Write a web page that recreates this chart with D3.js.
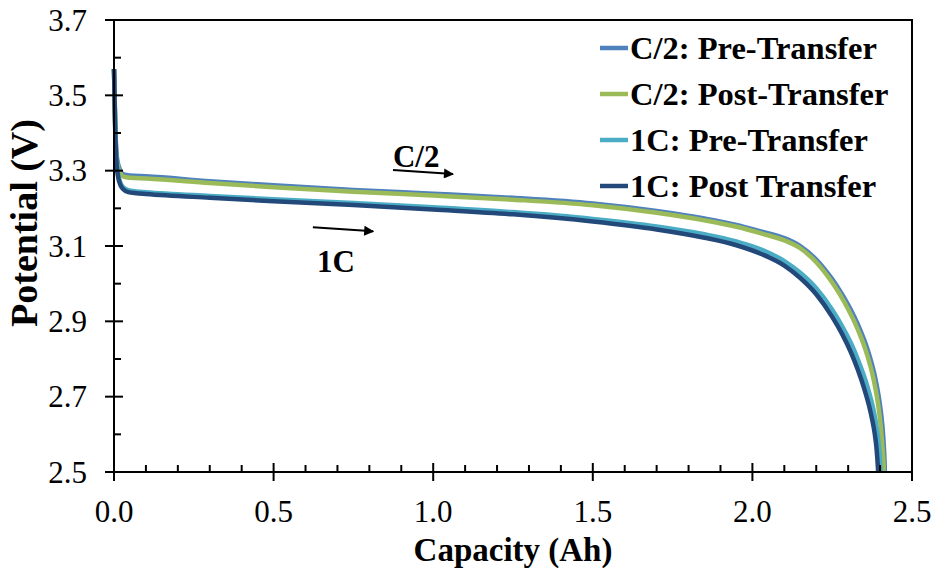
<!DOCTYPE html>
<html>
<head>
<meta charset="utf-8">
<script src="https://cdn.jsdelivr.net/npm/d3@7"></script>
<style>
  html, body { margin: 0; padding: 0; background: #fff; }
  svg { display: block; }
</style>
</head>
<body>
<svg id="chart" width="937" height="573"></svg>
<script>
// Discharge curves: capacity (Ah) vs potential (V)
const c2PreCap  = [0, 0.004, 0.01, 0.02, 0.03, 0.05, 0.1, 0.3, 0.5, 0.75, 1.0, 1.25, 1.5, 1.7, 1.85, 1.95, 2.03, 2.1, 2.15, 2.2, 2.225, 2.25, 2.275, 2.3, 2.32, 2.34, 2.355, 2.37, 2.38, 2.39, 2.398, 2.404, 2.409, 2.412, 2.414, 2.415];
const c2PreV    = [3.57, 3.42, 3.33, 3.30, 3.290, 3.287, 3.285, 3.272, 3.261, 3.249, 3.239, 3.228, 3.213, 3.193, 3.173, 3.156, 3.138, 3.121, 3.100, 3.064, 3.040, 3.012, 2.980, 2.944, 2.911, 2.873, 2.840, 2.800, 2.768, 2.728, 2.688, 2.650, 2.605, 2.565, 2.530, 2.50];

const c2PostCap = [0, 0.004, 0.01, 0.02, 0.03, 0.05, 0.1, 0.3, 0.5, 0.75, 1.0, 1.25, 1.5, 1.7, 1.85, 1.95, 2.03, 2.1, 2.15, 2.2, 2.225, 2.25, 2.275, 2.3, 2.32, 2.34, 2.355, 2.37, 2.38, 2.39, 2.397, 2.402, 2.406, 2.409, 2.411, 2.412];
const c2PostV   = [3.57, 3.41, 3.32, 3.293, 3.284, 3.281, 3.279, 3.267, 3.256, 3.244, 3.234, 3.223, 3.208, 3.188, 3.168, 3.151, 3.133, 3.115, 3.094, 3.057, 3.032, 3.003, 2.970, 2.932, 2.898, 2.858, 2.823, 2.780, 2.745, 2.700, 2.660, 2.622, 2.582, 2.548, 2.520, 2.50];

const oneCPreCap  = [0, 0.004, 0.01, 0.02, 0.03, 0.045, 0.07, 0.1, 0.3, 0.5, 0.75, 1.0, 1.25, 1.5, 1.7, 1.85, 1.95, 2.03, 2.1, 2.15, 2.2, 2.25, 2.28, 2.31, 2.33, 2.35, 2.365, 2.377, 2.386, 2.392, 2.396, 2.399, 2.401, 2.402];
const oneCPreV    = [3.57, 3.41, 3.31, 3.268, 3.255, 3.248, 3.245, 3.243, 3.233, 3.224, 3.214, 3.203, 3.190, 3.172, 3.152, 3.131, 3.112, 3.090, 3.060, 3.029, 2.988, 2.931, 2.889, 2.840, 2.800, 2.754, 2.713, 2.674, 2.636, 2.602, 2.572, 2.540, 2.515, 2.50];

const oneCPostCap = [0, 0.004, 0.01, 0.02, 0.03, 0.045, 0.07, 0.1, 0.3, 0.5, 0.75, 1.0, 1.25, 1.5, 1.7, 1.85, 1.95, 2.03, 2.1, 2.15, 2.2, 2.25, 2.28, 2.31, 2.33, 2.35, 2.365, 2.375, 2.383, 2.388, 2.391, 2.393, 2.394];
const oneCPostV   = [3.57, 3.40, 3.30, 3.262, 3.250, 3.243, 3.240, 3.238, 3.228, 3.219, 3.209, 3.197, 3.184, 3.165, 3.144, 3.122, 3.102, 3.078, 3.048, 3.015, 2.972, 2.912, 2.868, 2.815, 2.772, 2.722, 2.677, 2.640, 2.603, 2.570, 2.540, 2.515, 2.50];

const seriesNames  = ["C/2: Pre-Transfer", "C/2: Post-Transfer", "1C: Pre-Transfer", "1C: Post Transfer"];
const seriesColors = ["#4f81bd", "#9bbb59", "#4bacc6", "#23497a"];

const xTicks = [0, 0.5, 1.0, 1.5, 2.0, 2.5];
const yTicks = [2.5, 2.7, 2.9, 3.1, 3.3, 3.5, 3.7];

const series = [
  { name: seriesNames[0], color: seriesColors[0], cap: c2PreCap,    v: c2PreV },
  { name: seriesNames[1], color: seriesColors[1], cap: c2PostCap,   v: c2PostV },
  { name: seriesNames[2], color: seriesColors[2], cap: oneCPreCap,  v: oneCPreV },
  { name: seriesNames[3], color: seriesColors[3], cap: oneCPostCap, v: oneCPostV }
];

const FONT = '"Liberation Serif", "Times New Roman", serif';

const svg = d3.select("#chart");
const margin = { left: 114, right: 25, top: 20, bottom: 101 };
const W = 937, H = 573;
const x = d3.scaleLinear().domain([0, 2.5]).range([margin.left, W - margin.right]);
const y = d3.scaleLinear().domain([2.5, 3.7]).range([H - margin.bottom, margin.top]);

// curves
const line = d3.line()
  .x(d => x(d[0]))
  .y(d => y(d[1]))
  .curve(d3.curveMonotoneX);

svg.append("g").selectAll("path")
  .data(series)
  .join("path")
  .attr("d", s => line(s.cap.map((c, i) => [c, s.v[i]])))
  .attr("fill", "none")
  .attr("stroke", s => s.color)
  .attr("stroke-width", 4.5)
  .attr("stroke-linejoin", "round")
  .attr("stroke-linecap", "butt");

// frame
svg.append("rect")
  .attr("x", x(0)).attr("y", y(3.7))
  .attr("width", x(2.5) - x(0)).attr("height", y(2.5) - y(3.7))
  .attr("fill", "none").attr("stroke", "#000").attr("stroke-width", 2);

// x axis: major ticks crossing the axis, minor ticks inside
const xMinor = d3.range(1, 25).map(i => i / 10).filter(v => Math.abs(v * 2 - Math.round(v * 2)) > 1e-6);
const xAxis = svg.append("g").attr("transform", `translate(0,${y(2.5)})`);
xAxis.selectAll("line.major").data(xTicks).join("line")
  .attr("x1", d => x(d)).attr("x2", d => x(d))
  .attr("y1", -9).attr("y2", 9)
  .attr("stroke", "#000").attr("stroke-width", 2);
xAxis.selectAll("line.minor").data(xMinor).join("line")
  .attr("x1", d => x(d)).attr("x2", d => x(d))
  .attr("y1", -7).attr("y2", 0)
  .attr("stroke", "#000").attr("stroke-width", 2);
xAxis.selectAll("text").data(xTicks).join("text")
  .attr("x", d => x(d)).attr("y", 50)
  .attr("text-anchor", "middle")
  .style("font-family", FONT).attr("font-size", 31)
  .text(d => d3.format(".1f")(d));

// y axis
const yMinor = d3.range(26, 37).map(i => i / 10).filter(v => Math.round(v * 10) % 2 === 0);
const yAxis = svg.append("g").attr("transform", `translate(${x(0)},0)`);
yAxis.selectAll("line.major").data(yTicks).join("line")
  .attr("y1", d => y(d)).attr("y2", d => y(d))
  .attr("x1", -9).attr("x2", 9)
  .attr("stroke", "#000").attr("stroke-width", 2);
yAxis.selectAll("line.minor").data(yMinor).join("line")
  .attr("y1", d => y(d)).attr("y2", d => y(d))
  .attr("x1", 0).attr("x2", 7)
  .attr("stroke", "#000").attr("stroke-width", 2);
yAxis.selectAll("text").data(yTicks).join("text")
  .attr("x", -27).attr("y", d => y(d))
  .attr("dy", "0.34em")
  .attr("text-anchor", "end")
  .style("font-family", FONT).attr("font-size", 31)
  .text(d => d3.format(".1f")(d));

// axis titles
svg.append("text")
  .attr("x", (x(0) + x(2.5)) / 2).attr("y", 561)
  .attr("text-anchor", "middle")
  .style("font-family", FONT).attr("font-weight", "bold").attr("font-size", 33)
  .text("Capacity (Ah)");
svg.append("text")
  .attr("transform", `translate(37,223) rotate(-90)`)
  .attr("text-anchor", "middle")
  .style("font-family", FONT).attr("font-weight", "bold").attr("font-size", 38)
  .text("Potential (V)");

// legend
const legend = svg.append("g").attr("transform", "translate(600,48)");
const rows = legend.selectAll("g").data(series).join("g")
  .attr("transform", (d, i) => `translate(0,${i * 46})`);
rows.append("line")
  .attr("x1", 0).attr("x2", 28).attr("y1", 0).attr("y2", 0)
  .attr("stroke", d => d.color).attr("stroke-width", 4.5);
rows.append("text")
  .attr("x", 30).attr("dy", "0.34em")
  .style("font-family", FONT).attr("font-weight", "bold").attr("font-size", 32.5)
  .text(d => d.name);

// rate annotations with arrows
const defs = svg.append("defs");
defs.append("marker")
  .attr("id", "arrow").attr("viewBox", "0 0 10 10")
  .attr("refX", 9).attr("refY", 5)
  .attr("markerWidth", 6).attr("markerHeight", 5)
  .attr("markerUnits", "strokeWidth")
  .attr("orient", "auto")
  .append("path").attr("d", "M0,0 L10,5 L0,10 Z").attr("fill", "#000");

const notes = [
  { label: "C/2", from: [0.874, 3.302], to: [1.062, 3.291], text: [0.874, 3.31] },
  { label: "1C",  from: [0.623, 3.150], to: [0.812, 3.139], text: [0.636, 3.031] }
];
notes.forEach(n => {
  svg.append("line")
    .attr("x1", x(n.from[0])).attr("y1", y(n.from[1]))
    .attr("x2", x(n.to[0])).attr("y2", y(n.to[1]))
    .attr("stroke", "#000").attr("stroke-width", 2)
    .attr("marker-end", "url(#arrow)");
  svg.append("text")
    .attr("x", x(n.text[0])).attr("y", y(n.text[1]))
    .style("font-family", FONT).attr("font-weight", "bold").attr("font-size", 31)
    .text(n.label);
});
</script>
</body>
</html>
